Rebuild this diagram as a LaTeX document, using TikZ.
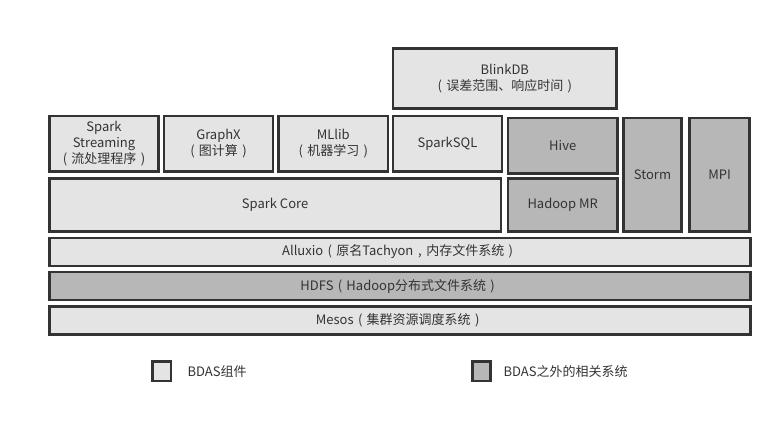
\documentclass[tikz,border=0pt]{standalone}
\usepackage{fontspec}
\setmainfont{Noto Sans CJK SC}
\newcommand\lpar{\makebox[1em]{(}}
\newcommand\rpar{\makebox[1em]{)}}
\newcommand\fcomma{\makebox[1em]{,}}
\usepackage{tikz}
\usetikzlibrary{positioning}

\begin{document}
\begin{tikzpicture}[x=1pt,y=-1pt,
		layer/.style={draw=custcol_33_33_33, line width=2.6pt, text=custcol_33_33_33,
			inner sep=0, outer sep=0, align=center,
			font=\fontsize{13pt}{16pt}\selectfont},
		bdas/.style={layer, fill=custcol_e4_e4_e4},
		other/.style={layer, fill=custcol_b7_b7_b7},
		keytext/.style={inner sep=0, outer sep=0, anchor=west, text=custcol_33_33_33,
			font=\fontsize{13pt}{16pt}\selectfont}]
	\definecolor{custcol_33_33_33}{RGB}{51, 51, 51}
	\definecolor{custcol_e4_e4_e4}{RGB}{228, 228, 228}
	\definecolor{custcol_b7_b7_b7}{RGB}{183, 183, 183}
	\useasboundingbox (0,0) rectangle (783,420);
	% top row
	\node[bdas, minimum width=223.8pt, minimum height=60.2pt] (blinkdb) at (504.8,78.6) {BlinkDB\\\lpar 误差范围、响应时间\rpar};
	% libraries on spark core
	\node[bdas, minimum width=109.5pt, minimum height=55.5pt] (streaming) at (104.0,143.7) {Spark\\Streaming\\\lpar 流处理程序\rpar};
	\node[bdas, minimum width=109.1pt, minimum height=55.5pt] (graphx) at (218.5,143.7) {GraphX\\\lpar 图计算\rpar};
	\node[bdas, minimum width=109.5pt, minimum height=55.5pt] (mllib) at (333.3,143.7) {MLlib\\\lpar 机器学习\rpar};
	\node[bdas, minimum width=109.1pt, minimum height=55.5pt] (sparksql) at (447.5,143.7) {SparkSQL};
	\node[other, minimum width=109.5pt, minimum height=55.8pt] (hive) at (562.7,145.8) {Hive};
	% engines
	\node[bdas, minimum width=451.8pt, minimum height=52.9pt] (sparkcore) at (275.1,205.0) {Spark Core};
	\node[other, minimum width=109.5pt, minimum height=52.9pt] (hadoopmr) at (562.7,205.0) {Hadoop MR};
	\node[other, minimum width=57.9pt, minimum height=113.5pt] (storm) at (652.5,174.7) {Storm};
	\node[other, minimum width=60.2pt, minimum height=113.5pt] (mpi) at (719.6,174.7) {MPI};
	% storage and resources
	\node[bdas, minimum width=701.2pt, minimum height=28.1pt] (alluxio) at (399.8,252.0) {Alluxio\lpar 原名Tachyon\fcomma 内存文件系统\rpar};
	\node[other, minimum width=701.2pt, minimum height=28.1pt] (hdfs) at (399.8,286.0) {HDFS\lpar Hadoop分布式文件系统\rpar};
	\node[bdas, minimum width=701.2pt, minimum height=28.1pt] (mesos) at (399.8,320.6) {Mesos\lpar 集群资源调度系统\rpar};
	% legend
	\node[bdas, minimum width=18.8pt, minimum height=19.8pt] (keybdas) at (161.6,371.1) {};
	\node[keytext] (keybdastext) at (187.5,371.1) {BDAS组件};
	\node[other, minimum width=18.2pt, minimum height=19.8pt] (keyother) at (481.3,371.1) {};
	\node[keytext] (keyothertext) at (503.5,371.1) {BDAS之外的相关系统};
\end{tikzpicture}
\end{document}
